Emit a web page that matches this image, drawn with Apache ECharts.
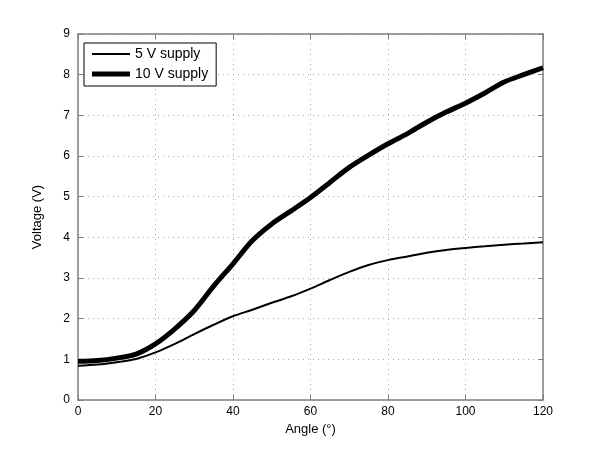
<!DOCTYPE html>
<html>
<head>
<meta charset="utf-8">
<script src="https://cdn.jsdelivr.net/npm/echarts@6/dist/echarts.min.js"></script>
<style>html,body{margin:0;padding:0;background:#fff}#c{width:600px;height:451px}</style>
</head>
<body>
<div id="c"></div>
<script>
const angles = [0,5,10,15,20,25,30,35,40,45,50,55,60,65,70,75,80,85,90,95,100,105,110,115,120];
const supply5 = [0.84,0.87,0.93,1.01,1.17,1.38,1.62,1.85,2.06,2.22,2.39,2.55,2.74,2.95,3.15,3.32,3.44,3.53,3.62,3.69,3.74,3.78,3.82,3.85,3.88];
const supply10 = [0.95,0.97,1.03,1.13,1.38,1.75,2.2,2.8,3.35,3.92,4.33,4.65,4.98,5.35,5.72,6.02,6.3,6.55,6.83,7.08,7.3,7.55,7.82,8.0,8.17];
const seriesNames = ['5 V supply','10 V supply'];
const xTicks = [0,20,40,60,80,100,120];
const yTicks = [0,1,2,3,4,5,6,7,8,9];

const font = 'Liberation Sans, Arial, Helvetica, sans-serif';
const axisGray = '#7f7f7f';
const gridLine = {show:true, lineStyle:{color:'#aaaaaa', type:[1,4], width:1}};

const chart = echarts.init(document.getElementById('c'), null, {renderer:'canvas'});
const pairs = (xs, ys) => xs.map((x,i)=>[x, ys[i]]);

chart.setOption({
  animation:false,
  backgroundColor:'#ffffff',
  grid:{left:78, top:34, right:57, bottom:51, containLabel:false},
  legend:{
    orient:'vertical', left:84, top:43,
    backgroundColor:'#fff', borderColor:'#000', borderWidth:1, borderRadius:0,
    padding:[4,8,5,8], itemWidth:38, itemHeight:14, itemGap:6, symbolKeepAspect:true,
    textStyle:{fontFamily:font, fontSize:14, color:'#000'},
    data:[
      {name:seriesNames[0], icon:'path://M0,0 L38,0 L38,2 L0,2 Z', itemStyle:{color:'#000'}},
      {name:seriesNames[1], icon:'path://M0,0 L38,0 L38,5 L0,5 Z', itemStyle:{color:'#000'}}
    ]
  },
  xAxis:[{
    type:'value', min:0, max:120, interval:20, position:'bottom',
    name:'Angle (°)', nameLocation:'middle', nameGap:22,
    nameTextStyle:{fontFamily:font, fontSize:13, color:'#000'},
    axisLine:{show:true, onZero:false, lineStyle:{color:axisGray, width:1.5}},
    axisTick:{show:true, inside:true, length:5, lineStyle:{color:axisGray}},
    axisLabel:{fontFamily:font, fontSize:12, color:'#000', margin:6,
      formatter:v=> xTicks.includes(v) ? String(v) : ''},
    splitLine:gridLine
  },{
    type:'value', min:0, max:120, interval:20, position:'top',
    axisLine:{show:true, onZero:false, lineStyle:{color:axisGray, width:1.5}},
    axisTick:{show:true, inside:true, length:5, lineStyle:{color:axisGray}},
    axisLabel:{show:false}, splitLine:{show:false}
  }],
  yAxis:[{
    type:'value', min:0, max:9, interval:1, position:'left',
    name:'Voltage (V)', nameLocation:'middle', nameGap:34, nameRotate:90,
    nameTextStyle:{fontFamily:font, fontSize:13, color:'#000'},
    axisLine:{show:true, onZero:false, lineStyle:{color:axisGray, width:1.5}},
    axisTick:{show:true, inside:true, length:5, lineStyle:{color:axisGray}},
    axisLabel:{fontFamily:font, fontSize:12, color:'#000', margin:8,
      formatter:v=> yTicks.includes(v) ? String(v) : ''},
    splitLine:gridLine
  },{
    type:'value', min:0, max:9, interval:1, position:'right',
    axisLine:{show:true, onZero:false, lineStyle:{color:axisGray, width:1.5}},
    axisTick:{show:true, inside:true, length:5, lineStyle:{color:axisGray}},
    axisLabel:{show:false}, splitLine:{show:false}
  }],
  series:[
    {name:seriesNames[0], type:'line', xAxisIndex:0, yAxisIndex:0, symbol:'none', smooth:0.3,
     data:pairs(angles, supply5), lineStyle:{color:'#000', width:2}, itemStyle:{color:'#000'}},
    {name:seriesNames[1], type:'line', xAxisIndex:0, yAxisIndex:0, symbol:'none', smooth:0.3,
     data:pairs(angles, supply10), lineStyle:{color:'#000', width:5}, itemStyle:{color:'#000'}}
  ]
});
</script>
</body>
</html>
